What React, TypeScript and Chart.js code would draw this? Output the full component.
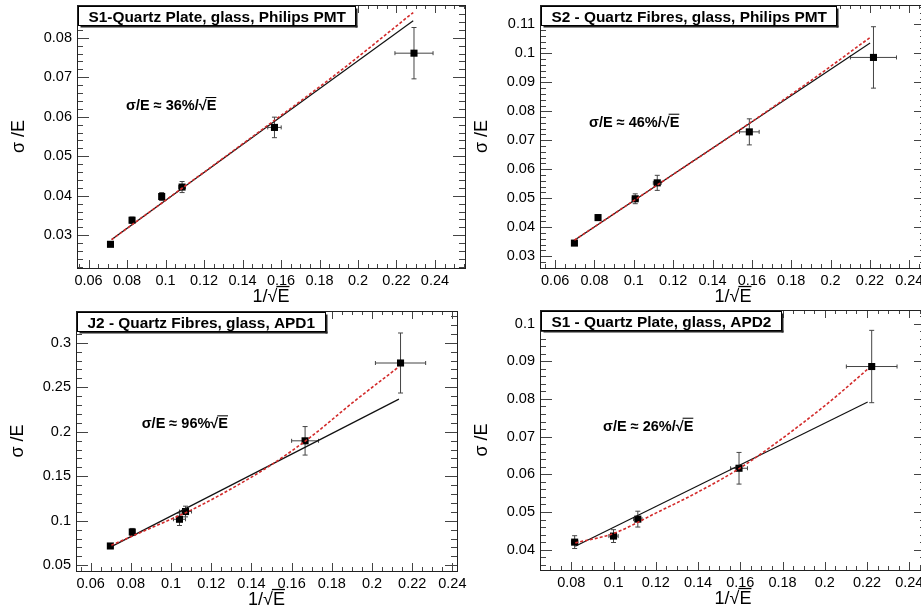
import React, { useEffect, useRef } from "react";
import { Chart, registerables } from "chart.js";
Chart.register(...registerables);

// ---------- Panel 1: S1 - Quartz Plate, Philips PMT ----------
const p1Title = "S1-Quartz Plate, glass, Philips PMT";
const p1Note = "σ/E ≈ 36%/√E";
const p1X = [0.0714, 0.0826, 0.098, 0.1086, 0.1566, 0.2291];
const p1Y = [0.0277, 0.0338, 0.0398, 0.0422, 0.0573, 0.0761];
const p1Ex = [0.0008, 0.001, 0.001, 0.0017, 0.0035, 0.0099];
const p1Ey = [0.0003, 0.0008, 0.001, 0.0014, 0.0026, 0.0065];
const p1LinX = [0.072, 0.2287];
const p1LinY = [0.0289, 0.0843];
const p1FitX = [0.072, 0.11, 0.15, 0.19, 0.2287];
const p1FitY = [0.0289, 0.0424, 0.0567, 0.0713, 0.0864];
const p1XTicks = [0.06, 0.08, 0.1, 0.12, 0.14, 0.16, 0.18, 0.2, 0.22, 0.24];
const p1YTicks = [0.03, 0.04, 0.05, 0.06, 0.07, 0.08];

// ---------- Panel 2: S2 - Quartz Fibres, Philips PMT ----------
const p2Title = "S2 - Quartz Fibres, glass, Philips PMT";
const p2Note = "σ/E ≈ 46%/√E";
const p2X = [0.0698, 0.0818, 0.1007, 0.1119, 0.1587, 0.2218];
const p2Y = [0.0345, 0.0433, 0.0498, 0.0553, 0.0729, 0.0986];
const p2Ex = [0.0008, 0.0008, 0.0015, 0.002, 0.005, 0.0117];
const p2Ey = [0.0006, 0.001, 0.0017, 0.0026, 0.0045, 0.0106];
const p2LinX = [0.0698, 0.2201];
const p2LinY = [0.0355, 0.1036];
const p2FitX = [0.0698, 0.11, 0.15, 0.19, 0.2201];
const p2FitY = [0.0355, 0.0537, 0.0718, 0.0906, 0.1055];
const p2XTicks = [0.06, 0.08, 0.1, 0.12, 0.14, 0.16, 0.18, 0.2, 0.22, 0.24];
const p2YTicks = [0.03, 0.04, 0.05, 0.06, 0.07, 0.08, 0.09, 0.1, 0.11];

// ---------- Panel 3: J2 - Quartz Fibres, APD1 ----------
const p3Title = "J2 - Quartz Fibres, glass, APD1";
const p3Note = "σ/E ≈ 96%√E";
const p3X = [0.0698, 0.0807, 0.1042, 0.1072, 0.1667, 0.2142];
const p3Y = [0.0717, 0.0874, 0.1017, 0.1104, 0.1898, 0.2772];
const p3Ex = [0.0008, 0.0008, 0.003, 0.003, 0.0067, 0.0125];
const p3Ey = [0.002, 0.004, 0.007, 0.006, 0.016, 0.0337];
const p3LinX = [0.0703, 0.2134];
const p3LinY = [0.071, 0.2366];
const p3FitX = [0.0703, 0.09, 0.11, 0.13, 0.15, 0.17, 0.19, 0.2134];
const p3FitY = [0.0725, 0.092, 0.112, 0.136, 0.163, 0.195, 0.232, 0.273];
const p3XTicks = [0.06, 0.08, 0.1, 0.12, 0.14, 0.16, 0.18, 0.2, 0.22, 0.24];
const p3YTicks = [0.05, 0.1, 0.15, 0.2, 0.25, 0.3];

// ---------- Panel 4: S1 - Quartz Plate, APD2 ----------
const p4Title = "S1 - Quartz Plate, glass, APD2";
const p4Note = "σ/E ≈ 26%/√E";
const p4X = [0.0816, 0.1, 0.1115, 0.1594, 0.2222];
const p4Y = [0.042, 0.0436, 0.0481, 0.0616, 0.0886];
const p4Ex = [0.0015, 0.0022, 0.002, 0.004, 0.012];
const p4Ey = [0.0017, 0.0017, 0.0021, 0.0042, 0.0096];
const p4LinX = [0.0819, 0.2203];
const p4LinY = [0.0409, 0.0792];
const p4FitX = [0.0819, 0.1, 0.12, 0.14, 0.16, 0.19, 0.205, 0.2203];
const p4FitY = [0.0418, 0.0443, 0.0497, 0.0553, 0.0617, 0.0738, 0.0805, 0.0879];
const p4XTicks = [0.08, 0.1, 0.12, 0.14, 0.16, 0.18, 0.2, 0.22, 0.24];
const p4YTicks = [0.04, 0.05, 0.06, 0.07, 0.08, 0.09, 0.1];

const xTitle = "1/√E";
const yTitle = "σ /E";

const FONT = "'Liberation Sans', Helvetica, Arial, sans-serif";

type Panel = {
  title: string; note: string;
  x: number[]; y: number[]; ex: number[]; ey: number[];
  linX: number[]; linY: number[]; fitX: number[]; fitY: number[];
  xTicks: number[]; yTicks: number[];
  xMin: number; xMax: number; yMin: number; yMax: number;
  xMajor: number; xSub: number; yMajor: number; ySub: number;
  canvas: { left: number; top: number; w: number; h: number };
  area: { l: number; t: number; r: number; b: number };
  noteAt: [number, number];
};

const panels: Panel[] = [
  {
    title: p1Title, note: p1Note, x: p1X, y: p1Y, ex: p1Ex, ey: p1Ey,
    linX: p1LinX, linY: p1LinY, fitX: p1FitX, fitY: p1FitY,
    xTicks: p1XTicks, yTicks: p1YTicks,
    xMin: 0.054, xMax: 0.2556, yMin: 0.0217, yMax: 0.0883,
    xMajor: 0.02, xSub: 4, yMajor: 0.01, ySub: 5,
    canvas: { left: 0, top: 0, w: 475, h: 305 },
    area: { l: 77, t: 5, r: 465, b: 268 },
    noteAt: [49, 100],
  },
  {
    title: p2Title, note: p2Note, x: p2X, y: p2Y, ex: p2Ex, ey: p2Ey,
    linX: p2LinX, linY: p2LinY, fitX: p2FitX, fitY: p2FitY,
    xTicks: p2XTicks, yTicks: p2YTicks,
    xMin: 0.0523, xMax: 0.2485, yMin: 0.0259, yMax: 0.1167,
    xMajor: 0.02, xSub: 4, yMajor: 0.01, ySub: 5,
    canvas: { left: 460, top: 0, w: 475, h: 305 },
    area: { l: 80, t: 5, r: 466, b: 268 },
    noteAt: [49, 116.7],
  },
  {
    title: p3Title, note: p3Note, x: p3X, y: p3Y, ex: p3Ex, ey: p3Ey,
    linX: p3LinX, linY: p3LinY, fitX: p3FitX, fitY: p3FitY,
    xTicks: p3XTicks, yTicks: p3YTicks,
    xMin: 0.0527, xMax: 0.2423, yMin: 0.0436, yMax: 0.3356,
    xMajor: 0.02, xSub: 4, yMajor: 0.05, ySub: 5,
    canvas: { left: 0, top: 305, w: 475, h: 304 },
    area: { l: 76, t: 6, r: 457, b: 266 },
    noteAt: [65.7, 112.3],
  },
  {
    title: p4Title, note: p4Note, x: p4X, y: p4Y, ex: p4Ex, ey: p4Ey,
    linX: p4LinX, linY: p4LinY, fitX: p4FitX, fitY: p4FitY,
    xTicks: p4XTicks, yTicks: p4YTicks,
    xMin: 0.0652, xMax: 0.2479, yMin: 0.0346, yMax: 0.1036,
    xMajor: 0.02, xSub: 4, yMajor: 0.01, ySub: 5,
    canvas: { left: 460, top: 305, w: 475, h: 304 },
    area: { l: 80, t: 2, r: 466, b: 265 },
    noteAt: [63, 115.7],
  },
];

const fmt = (v: any) => String(Number(Number(v).toFixed(4)));

function subTicks(min: number, max: number, major: number, nsub: number) {
  const step = major / nsub;
  const out: [number, boolean][] = [];
  for (let k = Math.ceil(min / step - 1e-9); k * step <= max + 1e-12; k++) {
    const v = k * step;
    const r = v / major;
    out.push([v, Math.abs(r - Math.round(r)) < 1e-6]);
  }
  return out;
}

// draws text with an overline over the part after "√"
function drawSqrtText(ctx: CanvasRenderingContext2D, text: string, x: number, baseline: number, size: number, align: "left" | "center") {
  const w = ctx.measureText(text).width;
  const x0 = align === "center" ? x - w / 2 : x;
  ctx.textAlign = "left";
  ctx.textBaseline = "alphabetic";
  ctx.fillText(text, x0, baseline);
  const idx = text.indexOf("√");
  if (idx >= 0) {
    const pre = ctx.measureText(text.slice(0, idx + 1)).width;
    ctx.beginPath();
    ctx.lineWidth = Math.max(1, size / 14);
    const yy = baseline - size * 0.86;
    ctx.moveTo(x0 + pre - 1, yy);
    ctx.lineTo(x0 + w, yy);
    ctx.stroke();
  }
}

function makePlugin(p: Panel) {
  return {
    id: "rootDeco",
    beforeDatasetsDraw(chart: any) {
      const ctx = chart.ctx as CanvasRenderingContext2D;
      const a = chart.chartArea;
      const xs = chart.scales.x;
      const ys = chart.scales.y;
      ctx.save();
      // ticks
      ctx.strokeStyle = "#444";
      ctx.lineWidth = 1;
      ctx.beginPath();
      for (const [v, maj] of subTicks(p.xMin, p.xMax, p.xMajor, p.xSub)) {
        const px = Math.round(xs.getPixelForValue(v)) + 0.5;
        const len = maj ? 8 : 4;
        ctx.moveTo(px, a.bottom); ctx.lineTo(px, a.bottom - len);
        ctx.moveTo(px, a.top); ctx.lineTo(px, a.top + len);
      }
      for (const [v, maj] of subTicks(p.yMin, p.yMax, p.yMajor, p.ySub)) {
        const py = Math.round(ys.getPixelForValue(v)) + 0.5;
        const len = maj ? 12 : 6;
        ctx.moveTo(a.left, py); ctx.lineTo(a.left + len, py);
        ctx.moveTo(a.right, py); ctx.lineTo(a.right - len, py);
      }
      ctx.stroke();
      // frame
      ctx.strokeStyle = "#222";
      ctx.strokeRect(Math.round(a.left) + 0.5, Math.round(a.top) + 0.5, Math.round(a.right - a.left), Math.round(a.bottom - a.top));
      // error bars
      ctx.strokeStyle = "#444";
      ctx.beginPath();
      for (let i = 0; i < p.x.length; i++) {
        const cx = xs.getPixelForValue(p.x[i]);
        const cy = ys.getPixelForValue(p.y[i]);
        const x1 = xs.getPixelForValue(p.x[i] - p.ex[i]);
        const x2 = xs.getPixelForValue(p.x[i] + p.ex[i]);
        const y1 = ys.getPixelForValue(p.y[i] - p.ey[i]);
        const y2 = ys.getPixelForValue(p.y[i] + p.ey[i]);
        ctx.moveTo(x1, cy); ctx.lineTo(x2, cy);
        ctx.moveTo(x1, cy - 2); ctx.lineTo(x1, cy + 2);
        ctx.moveTo(x2, cy - 2); ctx.lineTo(x2, cy + 2);
        ctx.moveTo(cx, y1); ctx.lineTo(cx, y2);
        ctx.moveTo(cx - 2.5, y1); ctx.lineTo(cx + 2.5, y1);
        ctx.moveTo(cx - 2.5, y2); ctx.lineTo(cx + 2.5, y2);
      }
      ctx.stroke();
      ctx.restore();
    },
    afterDatasetsDraw(chart: any) {
      const ctx = chart.ctx as CanvasRenderingContext2D;
      const a = chart.chartArea;
      ctx.save();
      // title box
      ctx.font = `bold 15.4px ${FONT}`;
      const tw = ctx.measureText(p.title).width;
      const bx = Math.round(a.left) + 1.5;
      const by = Math.round(a.top) + 1.5;
      const bw = Math.round(tw + 20);
      const bh = 19;
      ctx.fillStyle = "#fff";
      ctx.fillRect(bx, by, bw, bh);
      ctx.fillStyle = "#222";
      ctx.fillRect(bx + 2, by + bh, bw, 2);
      ctx.fillRect(bx + bw, by + 2, 2, bh);
      ctx.strokeStyle = "#000";
      ctx.lineWidth = 1;
      ctx.strokeRect(bx, by, bw, bh);
      ctx.fillStyle = "#000";
      ctx.textAlign = "left";
      ctx.textBaseline = "alphabetic";
      ctx.fillText(p.title, bx + 10, by + 15);
      // annotation
      ctx.font = `bold 14.5px ${FONT}`;
      ctx.strokeStyle = "#000";
      drawSqrtText(ctx, p.note, a.left + p.noteAt[0], a.top + p.noteAt[1] + 5, 14.5, "left");
      // axis titles
      ctx.font = `18px ${FONT}`;
      drawSqrtText(ctx, xTitle, (a.left + a.right) / 2, a.bottom + 34, 18, "center");
      ctx.save();
      ctx.translate(a.left - 58, (a.top + a.bottom) / 2);
      ctx.rotate(-Math.PI / 2);
      ctx.textAlign = "center";
      ctx.textBaseline = "middle";
      ctx.fillText(yTitle, 0, 0);
      ctx.restore();
      ctx.restore();
    },
  };
}

function buildConfig(p: Panel): any {
  const W = p.canvas.w;
  const H = p.canvas.h;
  const a = p.area;
  const pts = p.x.map((v, i) => ({ x: v, y: p.y[i] }));
  const lin = p.linX.map((v, i) => ({ x: v, y: p.linY[i] }));
  const fit = p.fitX.map((v, i) => ({ x: v, y: p.fitY[i] }));
  const tickFont = { family: FONT, size: 14.5 };
  return {
    type: "scatter",
    data: {
      datasets: [
        { data: pts, showLine: false, pointStyle: "rect", pointRadius: 5, pointBackgroundColor: "#000", pointBorderWidth: 0, order: 3 },
        { data: lin, showLine: true, borderColor: "#111", borderWidth: 1.2, pointRadius: 0, order: 2 },
        { data: fit, showLine: true, borderColor: "#d22a2a", borderWidth: 1.6, borderDash: [3, 2], pointRadius: 0, cubicInterpolationMode: "monotone", order: 1 },
      ],
    },
    options: {
      animation: false,
      responsive: false,
      events: [],
      layout: { padding: { top: a.t, right: W - a.r, left: 0, bottom: 0 } },
      plugins: { legend: { display: false }, tooltip: { enabled: false } },
      scales: {
        x: {
          type: "linear", position: "bottom", min: p.xMin, max: p.xMax, bounds: "data",
          afterBuildTicks: (s: any) => { s.ticks = p.xTicks.map((v) => ({ value: v })); },
          afterFit: (s: any) => { s.height = H - a.b; s.paddingLeft = 0; s.paddingRight = 0; },
          grid: { display: false, drawTicks: false }, border: { display: false },
          ticks: { autoSkip: false, maxRotation: 0, minRotation: 0, padding: 4, color: "#000", font: tickFont, callback: fmt },
        },
        y: {
          type: "linear", position: "left", min: p.yMin, max: p.yMax, bounds: "data",
          afterBuildTicks: (s: any) => { s.ticks = p.yTicks.map((v) => ({ value: v })); },
          afterFit: (s: any) => { s.width = a.l; s.paddingTop = 0; s.paddingBottom = 0; },
          grid: { display: false, drawTicks: false }, border: { display: false },
          ticks: { autoSkip: false, padding: 5, color: "#000", font: tickFont, callback: fmt },
        },
      },
    },
    plugins: [makePlugin(p)],
  };
}

function PanelChart({ p }: { p: Panel }) {
  const ref = useRef<HTMLCanvasElement | null>(null);
  useEffect(() => {
    if (!ref.current) return;
    const chart = new Chart(ref.current, buildConfig(p));
    return () => chart.destroy();
  }, [p]);
  return (
    <canvas
      ref={ref}
      width={p.canvas.w}
      height={p.canvas.h}
      style={{ position: "absolute", left: p.canvas.left, top: p.canvas.top, width: p.canvas.w, height: p.canvas.h }}
    />
  );
}

export default function App() {
  return (
    <div style={{ position: "fixed", left: 0, top: 0, width: 921, height: 609, overflow: "hidden", background: "#fff" }}>
      {panels.map((p, i) => (
        <PanelChart key={i} p={p} />
      ))}
    </div>
  );
}
